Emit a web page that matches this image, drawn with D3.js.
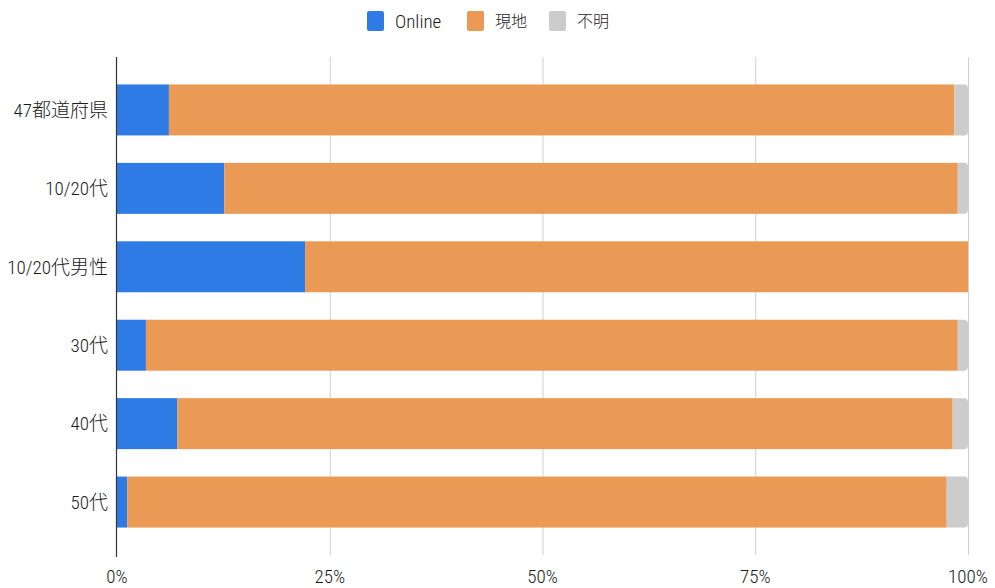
<!DOCTYPE html>
<html>
<head>
<meta charset="utf-8">
<script src="https://cdn.jsdelivr.net/npm/d3@7"></script>
<style>
  html, body { margin: 0; padding: 0; background: #fff; }
  svg text { font-family: "Roboto Condensed", "Noto Sans CJK JP", sans-serif; font-weight: 300; fill: #1a1a1a; }
</style>
</head>
<body>
<svg id="chart" width="995" height="588"></svg>
<script>
// Share of responses by group (percent)
const categories = ["47都道府県", "10/20代", "10/20代男性", "30代", "40代", "50代"];
const seriesNames = ["Online", "現地", "不明"];
const online = [6.1, 12.6, 22.1, 3.4, 7.1, 1.2];
const genchi = [92.3, 86.2, 77.9, 95.4, 91.1, 96.3];
const fumei  = [1.6, 1.2, 0.0, 1.2, 1.8, 2.5];
const tickValues = [0, 25, 50, 75, 100];
const tickLabels = ["0%", "25%", "50%", "75%", "100%"];
const colors = ["#2f7be6", "#eb9a56", "#cccccc"];

const svg = d3.select("#chart");
const margin = { left: 117, right: 27, top: 57, bottom: 33 };
const width = 995, height = 588;

const x = d3.scaleLinear().domain([0, 100]).range([margin.left, width - margin.right]);
const y = d3.scaleBand().domain(categories)
  .range([margin.top, height - margin.bottom])
  .paddingInner(0.35).paddingOuter(0.35);

// gridlines
svg.append("g")
  .selectAll("line")
  .data(tickValues.slice(1))
  .join("line")
  .attr("x1", d => x(d) + 0.5).attr("x2", d => x(d) + 0.5)
  .attr("y1", margin.top).attr("y2", height - margin.bottom)
  .attr("stroke", "#d0d0d0").attr("stroke-width", 1);

// stacked bars
const rows = categories.map((c, i) => ({ cat: c, Online: online[i], "現地": genchi[i], "不明": fumei[i] }));
const stack = d3.stack().keys(seriesNames)(rows);

stack.forEach((layer, li) => {
  const g = svg.append("g").attr("fill", colors[li]);
  layer.forEach(d => {
    const x0 = x(d[0]), x1 = x(d[1]);
    const w = x1 - x0;
    if (w <= 0) return;
    const top = y(d.data.cat), h = y.bandwidth();
    if (li === seriesNames.length - 1) {
      // last segment has rounded right end
      const r = Math.min(4, w);
      g.append("path")
        .attr("d", `M${x0},${top}H${x1 - r}Q${x1},${top} ${x1},${top + r}V${top + h - r}Q${x1},${top + h} ${x1 - r},${top + h}H${x0}Z`);
    } else {
      g.append("rect").attr("x", x0).attr("y", top).attr("width", w).attr("height", h);
    }
  });
});

// zero axis line
svg.append("line")
  .attr("x1", x(0) - 0.5).attr("x2", x(0) - 0.5)
  .attr("y1", margin.top).attr("y2", height - margin.bottom + 2)
  .attr("stroke", "#333").attr("stroke-width", 1.2);

// x tick labels
svg.append("g")
  .selectAll("text")
  .data(tickValues)
  .join("text")
  .attr("x", d => x(d)).attr("y", 583)
  .attr("text-anchor", "middle")
  .attr("font-size", 19)
  .text((d, i) => tickLabels[i]);

// category labels
svg.append("g")
  .selectAll("text")
  .data(categories)
  .join("text")
  .attr("x", 108)
  .attr("y", d => y(d) + y.bandwidth() / 2)
  .attr("dy", "0.36em")
  .attr("text-anchor", "end")
  .attr("font-size", 19)
  .text(d => d);

// legend
const legendX = [367, 467, 549];
const legend = svg.append("g");
seriesNames.forEach((name, i) => {
  legend.append("rect")
    .attr("x", legendX[i]).attr("y", 11)
    .attr("width", 17).attr("height", 20)
    .attr("rx", 2)
    .attr("fill", colors[i]);
  legend.append("text")
    .attr("x", legendX[i] + 28).attr("y", 21)
    .attr("dy", "0.36em")
    .attr("font-size", /^[\x00-\x7f]+$/.test(name) ? 19 : 16)
    .text(name);
});
</script>
</body>
</html>
